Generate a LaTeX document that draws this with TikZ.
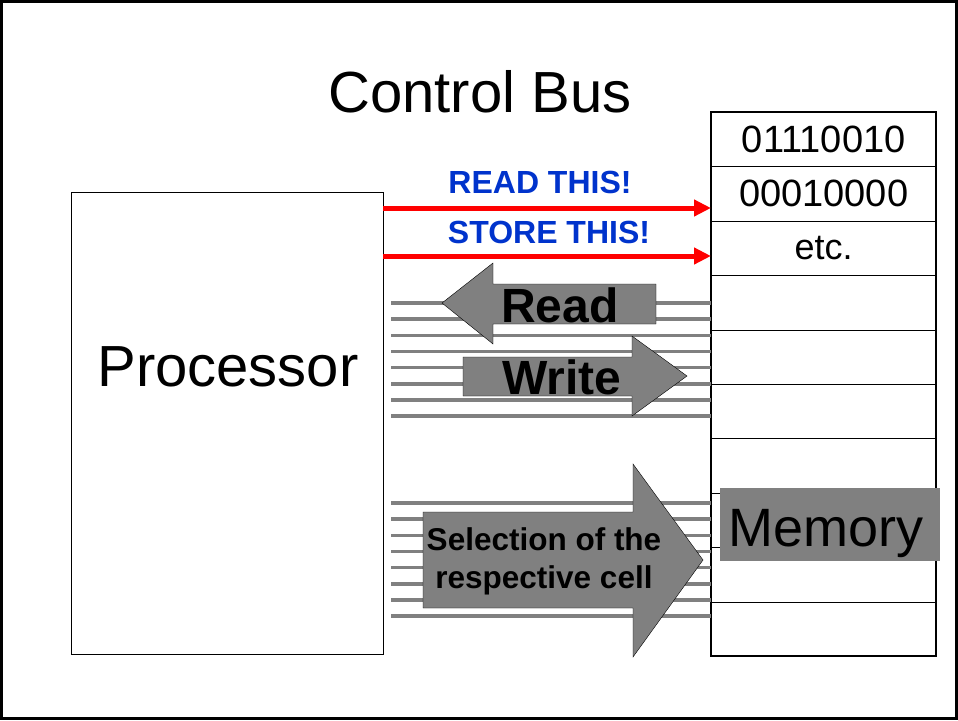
\documentclass[tikz,border=0pt]{standalone}
\usepackage{fontspec}
\setmainfont{Liberation Sans}
\usepackage{xcolor}
\usetikzlibrary{arrows.meta}
\definecolor{busblue}{RGB}{0,51,204}
\definecolor{busgray}{RGB}{128,128,128}

\begin{document}
\begin{tikzpicture}[x=1pt, y=-1pt,
    cell/.style={draw, minimum width=225pt, minimum height=54.4pt,
      inner sep=0pt, anchor=north west},
    cmd/.style={busblue, font=\fontsize{32}{34}\selectfont\bfseries},
    signal/.style={red, line width=5pt, -{Triangle[length=17pt, width=16pt]}},
    busline/.style={busgray, line width=3.5pt},
    fat/.style={fill=busgray},
    fattext/.style={font=\fontsize{48}{50}\selectfont\bfseries},
  ]
  \useasboundingbox (0,0) rectangle (958,720);
  \draw[line width=3pt] (1.5,1.5) rectangle (956.5,718.5);

  \node (title) at (480,92) {\fontsize{58}{60}\selectfont Control Bus};

  % processor
  \node (proc) [draw, minimum width=312pt, minimum height=462pt,
    inner sep=0pt, anchor=north west] at (71,192) {};
  \node (proctext) at (228,367) {\fontsize{58}{60}\selectfont Processor};

  % memory cells
  \foreach \i in {0,...,9}
    \node (cell\i) [cell] at (711,{112+\i*54.4}) {};
  \draw[line width=2pt] (cell0.north west) rectangle (cell9.south east);
  \node (val0) at (cell0) {\fontsize{38}{40}\selectfont 01110010};
  \node (val1) at (cell1) {\fontsize{38}{40}\selectfont 00010000};
  \node (val2) at (cell2) {\fontsize{36}{38}\selectfont etc.};

  % control signals
  \draw[signal] (proc.east |- 0,208) -- (cell1.west |- 0,208);
  \draw[signal] (proc.east |- 0,256) -- (cell2.west |- 0,256);
  \node (readcmd) [cmd] at (540,182) {READ THIS!};
  \node (storecmd) [cmd] at (549,232) {STORE THIS!};

  % data bus and address bus
  \foreach \i in {0,...,7} {
    \draw[busline] (391,{303+\i*16.15}) -- (711,{303+\i*16.15});
    \draw[busline] (391,{503+\i*16.15}) -- (711,{503+\i*16.15});
  }

  \draw[fat]
    (442,303) -- (493,263) -- (493,284) -- (656,284) -- (656,324)
    -- (493,324) -- (493,344) -- cycle;
  \node (read) [fattext] at (560,305) {Read};

  \draw[fat, draw=black]
    (463,357) -- (632,357) -- (632,336) -- (687,376) -- (632,416)
    -- (632,396) -- (463,396) -- cycle;
  \node (write) [fattext] at (562,377) {Write};

  \draw[fat]
    (423,512) -- (633,512) -- (633,464) -- (703,560) -- (633,657)
    -- (633,608) -- (423,608) -- cycle;
  \node (select) [align=center, font=\fontsize{31.5}{38}\selectfont\bfseries]
    at (544,561) {Selection of the\\respective cell};

  \node (membox) [fill=busgray, minimum width=220pt, minimum height=73pt,
    inner sep=0pt] at (830,524.5) {};
  \node (memlabel) [anchor=base, inner sep=0pt] at (826,546)
    {\fontsize{54}{56}\selectfont Memory};
\end{tikzpicture}
\end{document}
